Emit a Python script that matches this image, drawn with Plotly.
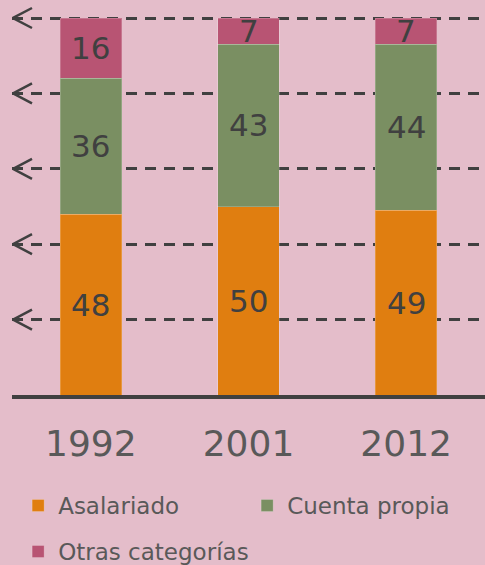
import plotly.graph_objects as go

years = ["1992", "2001", "2012"]
asalariado = [48, 50, 49]
cuenta_propia = [36, 43, 44]
otras = [16, 7, 7]
grid_vals = [20, 40, 60, 80, 100]

series = [
    ("Asalariado", asalariado, "#E07E10", "legend"),
    ("Cuenta propia", cuenta_propia, "#7A8F62", "legend"),
    ("Otras categorías", otras, "#B85473", "legend2"),
]

BG = "#E4BDCA"
DARK = "#404040"
TXT = "#595959"
FONT = "DejaVu Sans"

fig = go.Figure()
base = [0, 0, 0]
annotations = []
for name, vals, color, lg in series:
    fig.add_trace(go.Bar(
        x=list(range(len(years))), y=vals, name=name, legend=lg,
        marker=dict(color=color, line=dict(color="rgba(255,255,255,0.2)", width=1)),
        width=0.39,
    ))
    for i, v in enumerate(vals):
        annotations.append(dict(
            x=i, y=base[i] + v / 2, xref="x", yref="y",
            text=str(v), showarrow=False,
            font=dict(family=FONT, size=31, color=DARK),
        ))
        base[i] += v

shapes = []
for g in grid_vals:
    shapes.append(dict(
        type="path", xref="x", yref="y",
        xsizemode="pixel", ysizemode="pixel",
        xanchor=-0.5, yanchor=g,
        path="M 20 -10 L 1 0 L 20 10",
        line=dict(color=DARK, width=2.5),
    ))

fig.update_layout(
    barmode="stack",
    width=485, height=565,
    margin=dict(l=12, r=0, t=3, b=170, autoexpand=False),
    paper_bgcolor=BG, plot_bgcolor=BG,
    font=dict(family=FONT, color=TXT),
    xaxis=dict(
        range=[-0.5, 2.5],
        tickvals=list(range(len(years))), ticktext=years,
        showline=True, linecolor=DARK, linewidth=4,
        showgrid=False, zeroline=False, ticks="",
        tickfont=dict(family=FONT, size=36, color=TXT),
        ticklabelstandoff=14,
        fixedrange=True,
    ),
    yaxis=dict(
        range=[0, 103.98], tickvals=grid_vals, showticklabels=False,
        showgrid=True, gridcolor=DARK, gridwidth=2.5, griddash="11px,8px",
        zeroline=False, showline=False, fixedrange=True,
    ),
    legend=dict(
        orientation="h", x=0.013, y=0.1434, yref="container",
        yanchor="top", xanchor="left",
        font=dict(family=FONT, size=23, color=TXT),
        entrywidth=184, entrywidthmode="pixels",
        bgcolor="rgba(0,0,0,0)", traceorder="normal",
    ),
    legend2=dict(
        orientation="h", x=0.013, y=0.0619, yref="container",
        yanchor="top", xanchor="left",
        font=dict(family=FONT, size=23, color=TXT),
        bgcolor="rgba(0,0,0,0)",
    ),
    annotations=annotations,
    shapes=shapes,
)

fig.write_html(
    "out.html",
    config={"displayModeBar": False},
    post_script="document.body.style.margin='0px';document.body.style.background='#E4BDCA';",
)
